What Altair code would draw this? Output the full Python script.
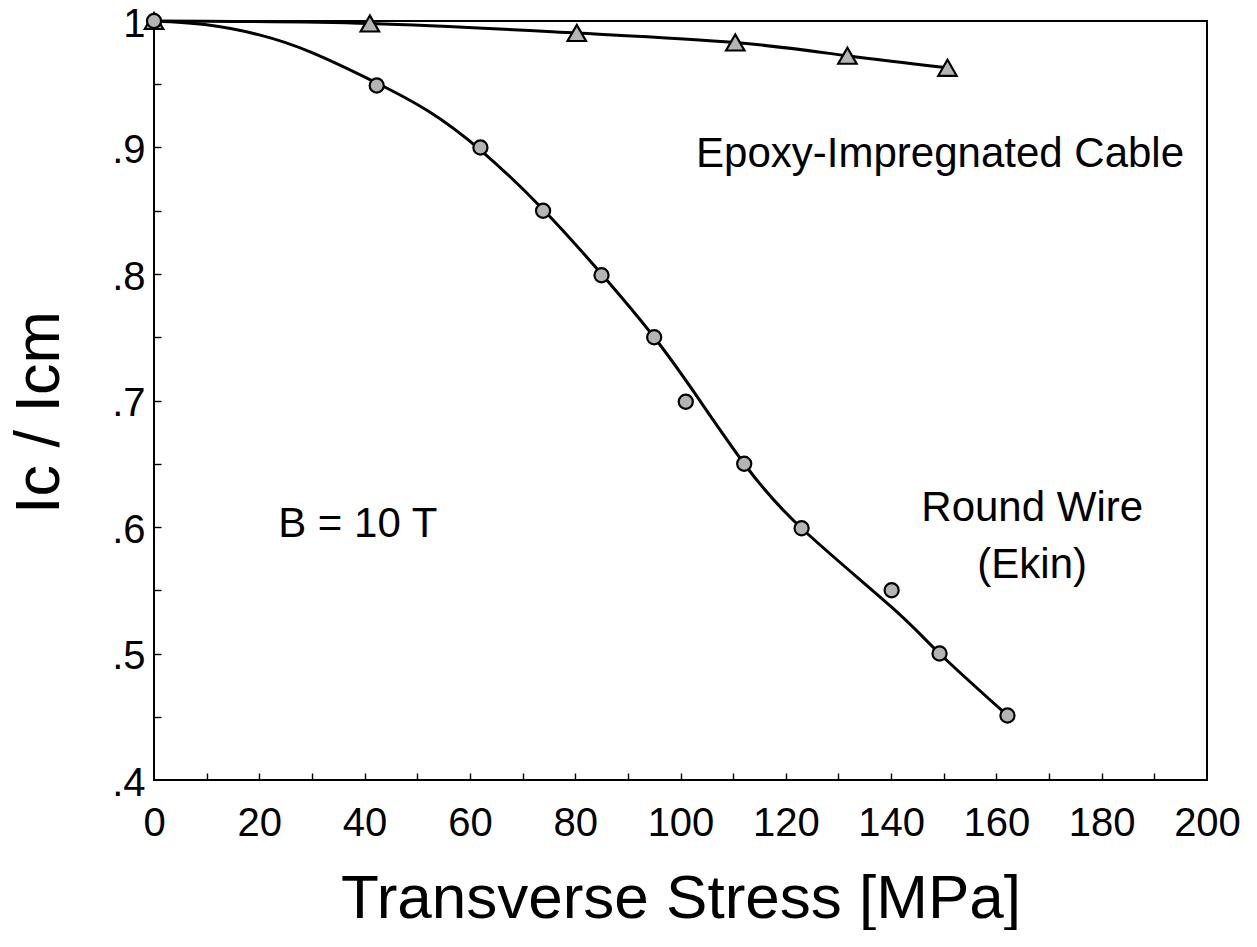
import altair as alt
import pandas as pd

# Round wire (Ekin) measured points
wire_stress = [0, 42.3, 62, 73.9, 85, 95, 101, 112.1, 123, 140.1, 149.2, 162.1]
wire_ratio = [1.0, 0.949, 0.900, 0.850, 0.799, 0.750, 0.699, 0.650, 0.599, 0.550, 0.500, 0.451]
# Smooth fitted curve for the round wire
wire_curve_stress = [0, 10, 20, 30, 42.3, 52, 62, 73.9, 85, 95, 103, 112.1, 123, 140, 149.2, 162.1]
wire_curve_ratio = [1.0, 0.997, 0.989, 0.975, 0.951, 0.929, 0.898, 0.851, 0.800, 0.750, 0.704, 0.650, 0.599, 0.537, 0.500, 0.451]
# Epoxy-impregnated cable
cable_stress = [0, 41, 80.3, 110.4, 131.7, 150.7]
cable_ratio = [1.0, 0.998, 0.9905, 0.983, 0.9725, 0.963]

# Axis values
x_label_values = [0, 20, 40, 60, 80, 100, 120, 140, 160, 180, 200]
x_tick_values = [10, 20, 30, 40, 50, 60, 70, 80, 90, 100, 110, 120, 130, 140, 150, 160, 170, 180, 190]
y_label_values = [0.4, 0.5, 0.6, 0.7, 0.8, 0.9, 1.0]
y_tick_values = [0.45, 0.5, 0.55, 0.6, 0.65, 0.7, 0.75, 0.8, 0.85, 0.9, 0.95]

# Annotations
ann_text = ["Epoxy-Impregnated Cable", "Round Wire", "(Ekin)", "B = 10 T"]
ann_x = [149.3, 166.8, 166.8, 38.7]
ann_y = [0.8846, 0.6047, 0.5597, 0.592]

FONT = "Liberation Sans, Arial, Helvetica, sans-serif"
W, H = 1053, 759

wire_pts = pd.DataFrame({"x": wire_stress, "y": wire_ratio})
wire_curve = pd.DataFrame({"x": wire_curve_stress, "y": wire_curve_ratio})
cable = pd.DataFrame({"x": cable_stress, "y": cable_ratio})
ann = pd.DataFrame({"x": ann_x, "y": ann_y, "t": ann_text})

xs = alt.Scale(domain=[0, 200], nice=False, zero=False)
ys = alt.Scale(domain=[0.4, 1.0], nice=False, zero=False)

label_x_axis = alt.Axis(
    values=x_label_values, ticks=False, tickSize=0, domain=False, grid=False,
    labelFontSize=40, labelFont=FONT, labelColor="black", labelPadding=55,
    labelBaseline="alphabetic", labelFlush=False,
    title="Transverse Stress [MPa]", titleFont=FONT, titleFontSize=62,
    titleFontWeight="normal", titleColor="black", titleBaseline="alphabetic",
    titleY=137, titleX=W / 2, titleAlign="center",
)
label_y_axis = alt.Axis(
    values=y_label_values, ticks=False, tickSize=0, domain=False, grid=False,
    labelFontSize=40, labelFont=FONT, labelColor="black", labelPadding=9,
    labelBaseline="middle", labelOffset=3, labelFlush=False,
    labelExpr="format(datum.value, '.1f') == '1.0' ? '1' : slice(format(datum.value, '.1f'), 1)",
    title="Ic / Icm", titleFont=FONT, titleFontSize=63, titleFontWeight="normal",
    titleColor="black", titleAngle=270, titleX=-115, titleY=391,
    titleAlign="center", titleBaseline="middle",
)
tick_x_axis = alt.Axis(
    orient="top", offset=-H, values=x_tick_values, labels=False, ticks=True,
    tickSize=7, tickWidth=1.4, tickColor="black", domain=False, grid=False, title="",
)
tick_y_axis = alt.Axis(
    orient="right", offset=-W, values=y_tick_values, labels=False, ticks=True,
    tickSize=7, tickWidth=1.4, tickColor="black", domain=False, grid=False, title="",
)

wire_line = alt.Chart(wire_curve).mark_line(
    color="black", strokeWidth=3, interpolate="natural"
).encode(
    x=alt.X("x:Q", scale=xs, axis=label_x_axis),
    y=alt.Y("y:Q", scale=ys, axis=label_y_axis),
)

cable_line = alt.Chart(cable).mark_line(
    color="black", strokeWidth=3, interpolate="natural"
).encode(
    x=alt.X("x:Q", scale=xs, axis=None),
    y=alt.Y("y:Q", scale=ys, axis=None),
)

cable_marks = alt.Chart(cable).mark_point(
    shape="triangle-up", size=340, filled=True, fill="#b4b4b4",
    stroke="black", strokeWidth=2.2, opacity=1,
).encode(
    x=alt.X("x:Q", scale=xs, axis=tick_x_axis),
    y=alt.Y("y:Q", scale=ys, axis=tick_y_axis),
)

wire_marks = alt.Chart(wire_pts).mark_point(
    shape="circle", size=200, filled=True, fill="#b4b4b4",
    stroke="black", strokeWidth=2.2, opacity=1,
).encode(
    x=alt.X("x:Q", scale=xs, axis=None),
    y=alt.Y("y:Q", scale=ys, axis=None),
)

texts = alt.Chart(ann).mark_text(
    font=FONT, fontSize=42, color="black", align="center", baseline="alphabetic"
).encode(
    x=alt.X("x:Q", scale=xs, axis=None),
    y=alt.Y("y:Q", scale=ys, axis=None),
    text="t:N",
)

chart = alt.layer(
    wire_line, cable_line, cable_marks, wire_marks, texts
).resolve_axis(
    x="independent", y="independent"
).properties(
    width=W, height=H, autosize="none", background="white",
    padding={"left": 146, "top": 13, "right": 40, "bottom": 150},
).configure_view(
    stroke="black", strokeWidth=2, strokeOpacity=1
)

chart.save("out.html", embed_options={"renderer": "svg", "actions": False})
